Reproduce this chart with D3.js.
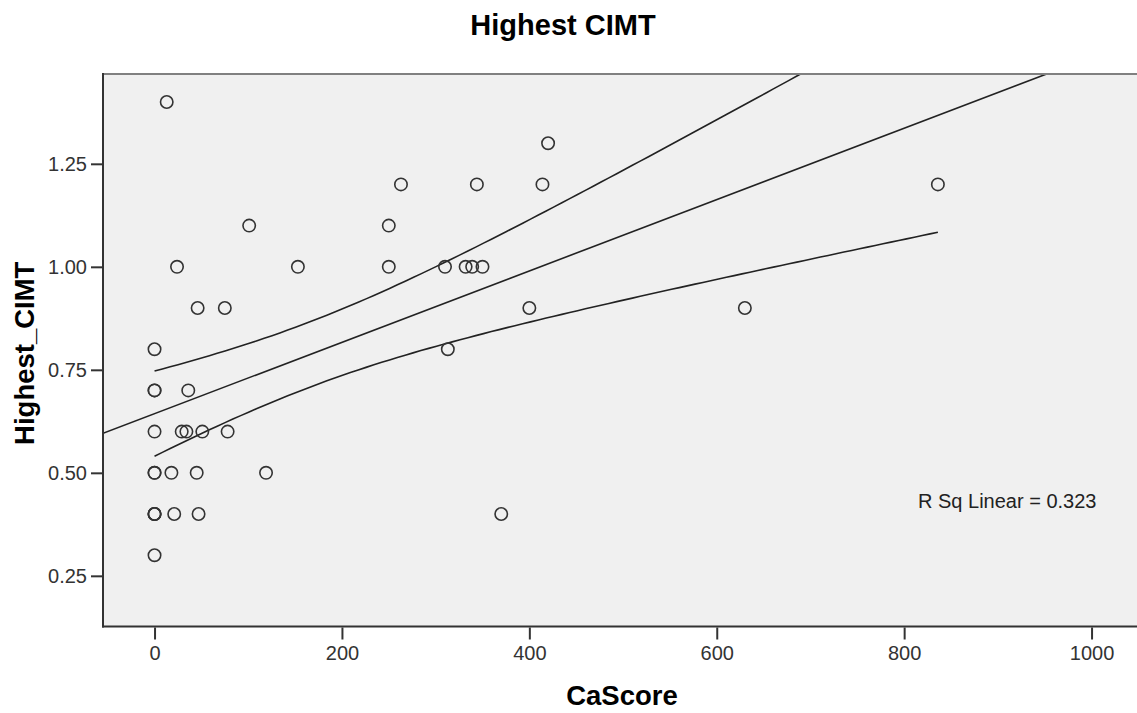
<!DOCTYPE html>
<html>
<head>
  <style>
  body {
    margin: 0;
    background: #fff;
    font-family: "Liberation Sans", Arial, sans-serif;
  }
  .axis .domain {
    display: none;
  }
  .axis .tick line {
    stroke: #333;
    stroke-width: 2px;
  }
  .axis .tick text {
    font-size: 20px;
    fill: #333;
  }
  .dot {
    fill: none;
    stroke: #333;
    stroke-width: 1.6px;
  }
  .fit {
    fill: none;
    stroke: #222;
    stroke-width: 1.6px;
  }
  </style>
</head>
<body>
  <div id="chart"></div>
  <script src="https://d3js.org/d3.v7.min.js"></script>
  <script>
  // CaScore / Highest_CIMT pairs (bold rings at 0 = overlapping cases)
  var caScore = [13, 24, 101, 46, 75, 0, 0, 0, 36, 0, 29, 34, 51, 78, 0, 0, 18, 45, 119, 0, 0, 0, 21, 47, 0,
                 153, 250, 250, 263, 310, 313, 332, 339, 350, 344, 420, 414, 400, 370, 630, 836];
  var cimt    = [1.40, 1.00, 1.10, 0.90, 0.90, 0.80, 0.70, 0.70, 0.70, 0.60, 0.60, 0.60, 0.60, 0.60, 0.50, 0.50, 0.50, 0.50, 0.50, 0.40, 0.40, 0.40, 0.40, 0.40, 0.30,
                 1.00, 1.10, 1.00, 1.20, 1.00, 0.80, 1.00, 1.00, 1.00, 1.20, 1.30, 1.20, 0.90, 0.40, 0.90, 1.20];
  var xTicks = [0, 200, 400, 600, 800, 1000];
  var yTicks = [0.25, 0.50, 0.75, 1.00, 1.25];
  var rSqLabel = "R Sq Linear = 0.323";
  var tCrit = 2.023; // t(0.975, df = 39)

  var W = 1137, H = 713;
  var margin = {top: 74, right: 0, bottom: 86, left: 103};

  var svg = d3.select("#chart").append("svg")
      .attr("width", W)
      .attr("height", H);

  var x = d3.scaleLinear()
    .domain([-55, 1048.5])
    .range([margin.left, W - margin.right]);

  var y = d3.scaleLinear()
    .domain([0.127, 1.468])
    .range([H - margin.bottom - 0.5, margin.top]);

  var pLeft = x.range()[0], pRight = x.range()[1];
  var pTop = y.range()[1], pBottom = y.range()[0];

  // plot background
  svg.append("rect")
      .attr("x", pLeft)
      .attr("y", pTop)
      .attr("width", pRight - pLeft)
      .attr("height", pBottom - pTop)
      .style("fill", "#f0f0f0");

  svg.append("clipPath")
      .attr("id", "clip")
    .append("rect")
      .attr("x", pLeft)
      .attr("y", pTop)
      .attr("width", pRight - pLeft)
      .attr("height", pBottom - pTop);

  // linear fit + 95% CI of the mean
  var data = caScore.map(function(d, i){ return {x: d, y: cimt[i]}; });
  var n = data.length;
  var mx = d3.mean(data, function(d){ return d.x; });
  var my = d3.mean(data, function(d){ return d.y; });
  var sxx = d3.sum(data, function(d){ return (d.x - mx) * (d.x - mx); });
  var sxy = d3.sum(data, function(d){ return (d.x - mx) * (d.y - my); });
  var b = sxy / sxx, a = my - b * mx;
  var sse = d3.sum(data, function(d){ var r = d.y - a - b * d.x; return r * r; });
  var s = Math.sqrt(sse / (n - 2));

  var ci = function(v, sign){
    return a + b * v + sign * tCrit * s * Math.sqrt(1 / n + (v - mx) * (v - mx) / sxx);
  };

  var xExt = d3.extent(caScore);
  var ciX = d3.range(0, 101).map(function(i){ return xExt[0] + (xExt[1] - xExt[0]) * i / 100; });

  var line = d3.line()
    .x(function(d){ return x(d[0]); })
    .y(function(d){ return y(d[1]); });

  var fits = svg.append("g").attr("clip-path", "url(#clip)");

  fits.append("path")
      .attr("class", "fit")
      .attr("d", line(x.domain().map(function(v){ return [v, a + b * v]; })));

  [-1, 1].forEach(function(sign){
    fits.append("path")
        .attr("class", "fit")
        .attr("d", line(ciX.map(function(v){ return [v, ci(v, sign)]; })));
  });

  // points
  svg.append("g")
    .selectAll("circle")
      .data(data)
    .enter().append("circle")
      .attr("class", "dot")
      .attr("cx", function(d){ return x(d.x); })
      .attr("cy", function(d){ return y(d.y); })
      .attr("r", 6.2);

  // frame
  svg.append("line")
      .attr("x1", pLeft).attr("x2", pRight)
      .attr("y1", pTop).attr("y2", pTop)
      .style("stroke", "#808080").style("stroke-width", 2);
  svg.append("line")
      .attr("x1", pLeft).attr("x2", pLeft)
      .attr("y1", pTop - 1).attr("y2", pBottom + 1)
      .style("stroke", "#333").style("stroke-width", 2);
  svg.append("line")
      .attr("x1", pLeft - 1).attr("x2", pRight)
      .attr("y1", pBottom).attr("y2", pBottom)
      .style("stroke", "#333").style("stroke-width", 2);

  // axes
  svg.append("g")
      .attr("class", "x axis")
      .attr("transform", "translate(0," + (pBottom + 1) + ")")
      .call(d3.axisBottom(x).tickValues(xTicks).tickSize(12).tickPadding(6).tickFormat(d3.format("d")));

  svg.append("g")
      .attr("class", "y axis")
      .attr("transform", "translate(" + (pLeft - 1) + ",0)")
      .call(d3.axisLeft(y).tickValues(yTicks).tickSize(11).tickPadding(4).tickFormat(d3.format(".2f")));

  // texts
  svg.append("text")
      .attr("x", 563)
      .attr("y", 35)
      .style("text-anchor", "middle")
      .style("font-size", "29px")
      .style("font-weight", "bold")
      .text("Highest CIMT");

  svg.append("text")
      .attr("x", 622)
      .attr("y", 705)
      .style("text-anchor", "middle")
      .style("font-size", "27.5px")
      .style("font-weight", "bold")
      .text("CaScore");

  svg.append("text")
      .attr("transform", "translate(34," + ((pTop + pBottom) / 2 + 3) + ") rotate(-90)")
      .style("text-anchor", "middle")
      .style("font-size", "27.5px")
      .style("font-weight", "bold")
      .text("Highest_CIMT");

  svg.append("text")
      .attr("x", 918)
      .attr("y", 508)
      .style("font-size", "20px")
      .style("fill", "#222")
      .text(rSqLabel);
  </script>
</body>
</html>
